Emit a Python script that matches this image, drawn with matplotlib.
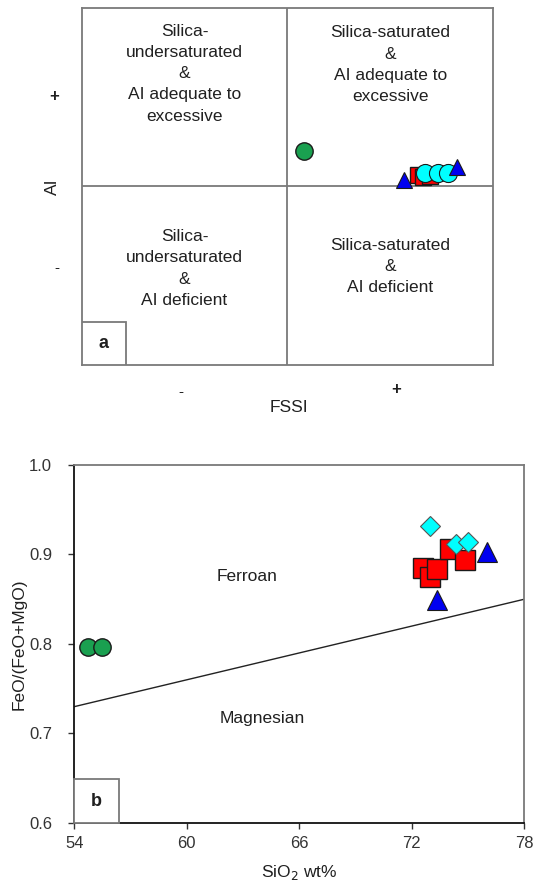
import matplotlib.pyplot as plt
from matplotlib.patches import Rectangle

plt.rcParams['font.family'] = ['Liberation Sans', 'DejaVu Sans']

# panel a : FSSI vs AI (arbitrary units, dividers at 0)
a_green_x = [0.083]
a_green_y = [0.20]
a_red_x = [0.637, 0.661, 0.696]
a_red_y = [0.064, 0.053, 0.059]
a_cyan_x = [0.671, 0.734, 0.783]
a_cyan_y = [0.075, 0.075, 0.077]
a_blue_x = [0.569, 0.827]
a_blue_y = [0.036, 0.106]

quad_labels = ['Silica-\nundersaturated\n&\nAI adequate to\nexcessive',
               'Silica-saturated\n&\nAI adequate to\nexcessive',
               'Silica-\nundersaturated\n&\nAI deficient',
               'Silica-saturated\n&\nAI deficient']

# panel b : SiO2 vs FeO/(FeO+MgO)
b_green_x = [54.73, 55.48]
b_green_y = [0.797, 0.797]
b_red_x = [72.6, 72.97, 73.34, 74.04, 74.84]
b_red_y = [0.885, 0.875, 0.884, 0.906, 0.894]
b_cyan_x = [72.97, 74.36, 75.01]
b_cyan_y = [0.932, 0.912, 0.914]
b_blue_x = [73.34, 76.01]
b_blue_y = [0.849, 0.903]
line_x = [54, 78]
line_y = [0.73, 0.85]
xticks = [54, 60, 66, 72, 78]
yticks = [0.6, 0.7, 0.8, 0.9, 1.0]

green = '#1aa050'
red = '#ff0000'
blue = '#0000f0'
cyan = '#00ffff'
edge = '#1a1a1a'
gray = '#7a7a7a'
txt = '#202020'

fig = plt.figure(figsize=(5.35, 8.86), dpi=100)

# ---------------- panel a
ax = fig.add_axes([0.1527, 0.588, 0.7688, 0.4035])
ax.set_xlim(-1, 1)
ax.set_ylim(-1, 1)
ax.set_xticks([])
ax.set_yticks([])
for s in ax.spines.values():
    s.set_color(gray)
    s.set_linewidth(1.3)
ax.axhline(0, color=gray, lw=1.3, zorder=1)
ax.axvline(0, color=gray, lw=1.3, zorder=1)

ls = 1.52
ax.text(-0.5, 0.63, quad_labels[0], ha='center', va='center', fontsize=12.5, color=txt, linespacing=ls)
ax.text(0.5, 0.68, quad_labels[1], ha='center', va='center', fontsize=12.5, color=txt, linespacing=ls)
ax.text(-0.5, -0.46, quad_labels[2], ha='center', va='center', fontsize=12.5, color=txt, linespacing=ls)
ax.text(0.5, -0.45, quad_labels[3], ha='center', va='center', fontsize=12.5, color=txt, linespacing=ls)

ax.plot(a_green_x, a_green_y, 'o', ms=12.5, mfc=green, mec=edge, mew=1, zorder=3)
ax.plot(a_red_x, a_red_y, 's', ms=12, mfc=red, mec=edge, mew=1, zorder=3)
ax.plot(a_cyan_x, a_cyan_y, 'o', ms=13, mfc=cyan, mec=edge, mew=0.8, zorder=4)
ax.plot(a_blue_x, a_blue_y, '^', ms=12, mfc=blue, mec=edge, mew=0.8, zorder=5)

ax.add_patch(Rectangle((-1, -1), 0.215, 0.24, fc='white', ec=gray, lw=1.3, zorder=6))
ax.text(-0.893, -0.88, 'a', ha='center', va='center', fontsize=13, fontweight='bold', color=txt, zorder=7)

ax.text(-0.52, -1.15, '-', ha='center', va='center', fontsize=11, color=txt, clip_on=False)
ax.text(0.53, -1.135, '+', ha='center', va='center', fontsize=12, fontweight='bold', color=txt, clip_on=False)
ax.text(0.01, -1.235, 'FSSI', ha='center', va='center', fontsize=12.5, color=txt, clip_on=False)
ax.text(-1.135, 0.5, '+', ha='center', va='center', fontsize=12, fontweight='bold', color=txt, clip_on=False)
ax.text(-1.12, -0.46, '-', ha='center', va='center', fontsize=11, color=txt, clip_on=False)
ax.text(-1.14, 0.0, 'AI', ha='center', va='center', fontsize=12.5, color=txt, rotation=90, clip_on=False)

# ---------------- panel b
bx = fig.add_axes([0.1389, 0.0711, 0.841, 0.4041])
bx.set_xlim(54, 78)
bx.set_ylim(0.6, 1.0)
bx.set_xticks(xticks)
bx.set_yticks(yticks)
bx.set_yticklabels(['%.1f' % v for v in yticks])
bx.tick_params(direction='out', length=4, width=1, labelsize=12, colors='#333333')
bx.tick_params(axis='y', pad=12)
bx.tick_params(axis='x', pad=5)
bx.spines['left'].set_color('#111111')
bx.spines['bottom'].set_color('#111111')
bx.spines['top'].set_color(gray)
bx.spines['right'].set_color(gray)
for s in bx.spines.values():
    s.set_linewidth(1.3)

bx.plot(line_x, line_y, color='#222222', lw=1, zorder=2)

bx.plot(b_green_x, b_green_y, 'o', ms=12.5, mfc=green, mec=edge, mew=1, zorder=3)
bx.plot(b_blue_x, b_blue_y, '^', ms=14, mfc=blue, mec=edge, mew=0.8, zorder=3)
bx.plot(b_red_x, b_red_y, 's', ms=14, mfc=red, mec=edge, mew=1, zorder=4)
bx.plot(b_cyan_x, b_cyan_y, 'D', ms=10.5, mfc=cyan, mec='#555555', mew=0.8, zorder=5)

bx.text(63.2, 0.875, 'Ferroan', ha='center', va='center', fontsize=12.5, color=txt)
bx.text(64.0, 0.717, 'Magnesian', ha='center', va='center', fontsize=12.5, color=txt)

bx.add_patch(Rectangle((54, 0.6), 2.36, 0.049, fc='white', ec=gray, lw=1.3, zorder=6, clip_on=False))
bx.text(55.2, 0.6245, 'b', ha='center', va='center', fontsize=13, fontweight='bold', color=txt, zorder=7)

bx.set_xlabel('SiO$_2$ wt%', fontsize=12.5, color=txt)
bx.set_ylabel('FeO/(FeO+MgO)', fontsize=12.5, color=txt)
bx.xaxis.set_label_coords(0.5, -0.112)
bx.yaxis.set_label_coords(-0.106, 0.5)

fig.savefig('out.png', dpi=100)
